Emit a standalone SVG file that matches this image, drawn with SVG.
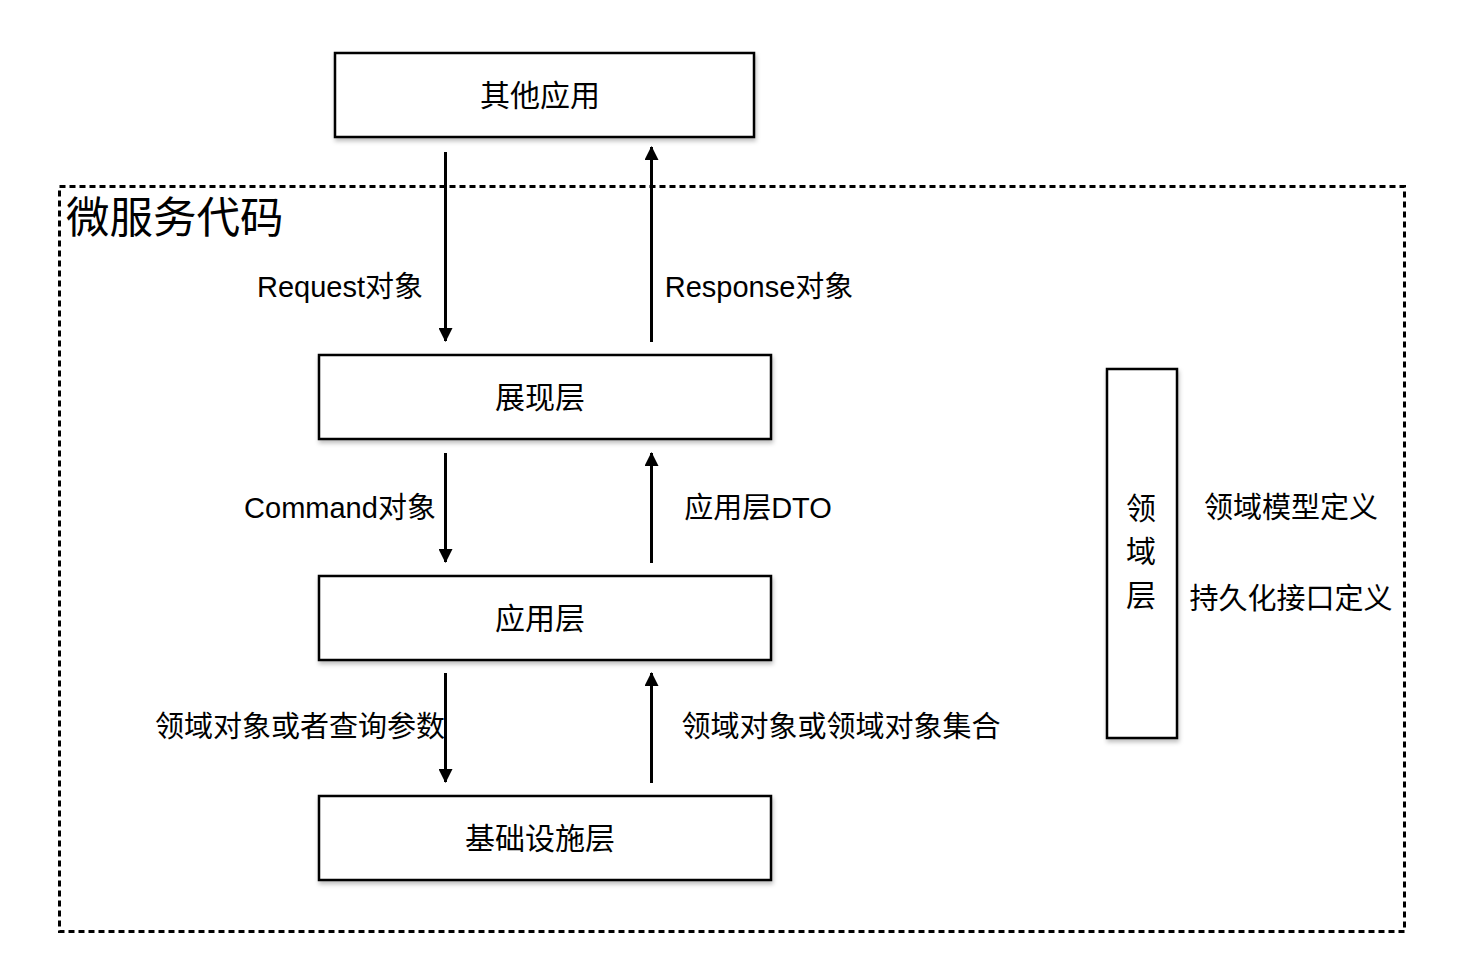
<svg xmlns="http://www.w3.org/2000/svg" width="1462" height="970" viewBox="0 0 1462 970">
<defs>
<filter id="sh" x="-5%" y="-10%" width="115%" height="140%">
<feDropShadow dx="1" dy="3" stdDeviation="2" flood-color="#000" flood-opacity="0.25"/>
</filter>
<marker id="ah" viewBox="0 0 14 14" refX="13" refY="7" markerWidth="14" markerHeight="14" markerUnits="userSpaceOnUse" orient="auto">
<path d="M0,0 L14,7 L0,14 Z" fill="#000"/>
</marker>
<style>
.box{fill:#fff;stroke:#000;stroke-width:2.5;filter:url(#sh)}
.t{font-family:"Liberation Sans","Noto Sans CJK SC",sans-serif;font-size:29px;fill:#000;dominant-baseline:central}
.bt{font-size:30px;text-anchor:middle}
.c{stroke:#000;stroke-width:3;fill:none;marker-end:url(#ah)}
.dash{fill:none;stroke:#000;stroke-width:3;stroke-dasharray:6 4}
</style>
</defs>
<rect width="1462" height="970" fill="#fff"/>
<g id="container">
<rect class="dash" x="59.5" y="186.5" width="1345" height="745"/>
<text class="t" x="66" y="218" style="font-size:43.5px">微服务代码</text>
</g>
<g id="other-app">
<rect class="box" x="335" y="53" width="419" height="84"/>
<text class="t bt" x="540" y="95">其他应用</text>
</g>
<g id="presentation">
<rect class="box" x="319" y="355" width="452" height="84"/>
<text class="t bt" x="540" y="397">展现层</text>
</g>
<g id="application">
<rect class="box" x="319" y="576" width="452" height="84"/>
<text class="t bt" x="540" y="618">应用层</text>
</g>
<g id="infrastructure">
<rect class="box" x="319" y="796" width="452" height="84"/>
<text class="t bt" x="540" y="838">基础设施层</text>
</g>
<g id="domain">
<rect class="box" x="1107" y="369" width="70" height="369"/>
<text class="t bt" x="1141" y="508">领</text>
<text class="t bt" x="1141" y="551">域</text>
<text class="t bt" x="1141" y="595">层</text>
<text class="t" x="1291" y="508" text-anchor="middle">领域模型定义</text>
<text class="t" x="1291" y="599" text-anchor="middle">持久化接口定义</text>
</g>
<g id="connectors">
<line class="c" x1="445.5" y1="152" x2="445.5" y2="341"/>
<line class="c" x1="651.5" y1="342" x2="651.5" y2="147"/>
<line class="c" x1="445.5" y1="453" x2="445.5" y2="562"/>
<line class="c" x1="651.5" y1="563" x2="651.5" y2="453"/>
<line class="c" x1="445.5" y1="673" x2="445.5" y2="782"/>
<line class="c" x1="651.5" y1="783" x2="651.5" y2="673"/>
<text class="t" x="340" y="287" text-anchor="middle">Request对象</text>
<text class="t" x="759" y="287" text-anchor="middle">Response对象</text>
<text class="t" x="340" y="508" text-anchor="middle">Command对象</text>
<text class="t" x="758" y="508" text-anchor="middle">应用层DTO</text>
<text class="t" x="300" y="727" text-anchor="middle">领域对象或者查询参数</text>
<text class="t" x="841" y="727" text-anchor="middle">领域对象或领域对象集合</text>
</g>
</svg>
